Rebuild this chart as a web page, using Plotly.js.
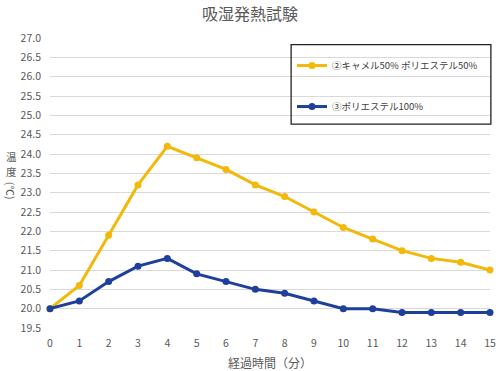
<!DOCTYPE html>
<html><head><meta charset="utf-8">
<script src="https://cdn.plot.ly/plotly-3.0.1.min.js"></script>
<style>html,body{margin:0;padding:0;background:#fff}</style>
</head><body><div id="chart" style="width:500px;height:371px"></div>
<script>
const minutes = [0,1,2,3,4,5,6,7,8,9,10,11,12,13,14,15];
const camelBlend = [20.0,20.6,21.9,23.2,24.2,23.9,23.6,23.2,22.9,22.5,22.1,21.8,21.5,21.3,21.2,21.0];
const polyester = [20.0,20.2,20.7,21.1,21.3,20.9,20.7,20.5,20.4,20.2,20.0,20.0,19.9,19.9,19.9,19.9];
const seriesNames = ['②キャメル50% ポリエステル50%','③ポリエステル100%'];
const yTicks = [19.5,20.0,20.5,21.0,21.5,22.0,22.5,23.0,23.5,24.0,24.5,25.0,25.5,26.0,26.5,27.0];
const yTitleParts = ['温','度','(℃)'];

const font = 'Noto Sans CJK JP, Noto Sans, sans-serif';
const traces = [
  {x: minutes, y: camelBlend, name: seriesNames[0], mode: 'lines+markers', legendgroup:'a',
   line:{color:'#F2B80A', width:3}, marker:{color:'#F2B80A', size:7}, cliponaxis:false},
  {x: minutes, y: polyester, name: seriesNames[1], mode: 'lines+markers', legendgroup:'b',
   line:{color:'#1E3F9A', width:3}, marker:{color:'#1E3F9A', size:7}, cliponaxis:false}
];
const titleFont = {family:font, size:10.5, color:'#595959'};
const layout = {
  width:500, height:371,
  margin:{l:50, r:10, t:38, b:43},
  paper_bgcolor:'#fff', plot_bgcolor:'#fff',
  font:{family:font, color:'#595959', size:10.5},
  title:{text:'吸湿発熱試験', x:0.5, xanchor:'center', y:0.96, yanchor:'middle',
         font:{family:font, size:16, color:'#595959'}},
  xaxis:{range:[0,15], tickvals:minutes, ticktext:minutes.map(String), showgrid:false,
         zeroline:false, showline:false, ticks:'', ticklabelstandoff:7,
         title:{text:'経過時間（分）', font:{family:font, size:12, color:'#595959'}, standoff:11}},
  yaxis:{range:[19.5,27.0], tickvals:yTicks, ticktext:yTicks.map(v=>v.toFixed(1)),
         showgrid:true, gridcolor:'#D9D9D9', gridwidth:1, zeroline:false, showline:false,
         ticks:'', ticklabelstandoff:8},
  showlegend:true,
  legend:{x:0.55, y:0.955, xanchor:'left', yanchor:'top', bgcolor:'rgba(0,0,0,0)',
          borderwidth:0, traceorder:'grouped', tracegroupgap:22, itemwidth:30,
          font:{family:font, size:9.5, color:'#404040'}},
  shapes:[{type:'rect', xref:'paper', yref:'paper', x0:0.548, x1:1.002, y0:0.703, y1:0.977,
           line:{color:'#222', width:1.3}, fillcolor:'rgba(0,0,0,0)'}],
  annotations:[
    {text:yTitleParts[0], xref:'paper', yref:'paper', x:-0.088, y:0.593, xanchor:'center', yanchor:'middle', showarrow:false, font:titleFont},
    {text:yTitleParts[1], xref:'paper', yref:'paper', x:-0.088, y:0.538, xanchor:'center', yanchor:'middle', showarrow:false, font:titleFont},
    {text:yTitleParts[2], textangle:90, xref:'paper', yref:'paper', x:-0.088, y:0.472, xanchor:'center', yanchor:'middle', showarrow:false, font:titleFont}
  ]
};
Plotly.newPlot('chart', traces, layout, {displayModeBar:false, staticPlot:true});
</script></body></html>
